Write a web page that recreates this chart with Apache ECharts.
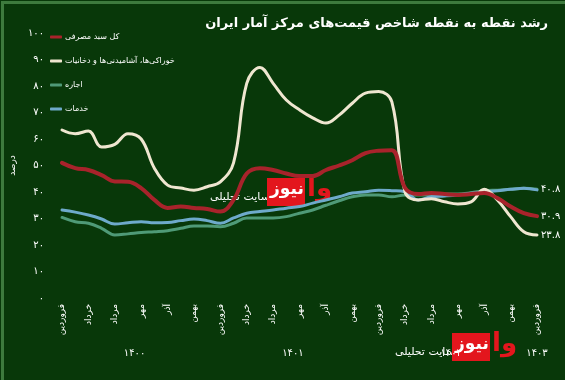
<!DOCTYPE html>
<html>
<head>
<meta charset="utf-8">
<script src="https://cdn.jsdelivr.net/npm/echarts@6/dist/echarts.min.js"></script>
<style>
  html, body { margin: 0; padding: 0; background: #083809; }
  #main { width: 565px; height: 380px; }
</style>
</head>
<body>
<div id="main"></div>
<script>
// ماه‌ها از فروردین ۱۴۰۰ تا فروردین ۱۴۰۳
var monthNames = ['فروردین','اردیبهشت','خرداد','تیر','مرداد','شهریور','مهر','آبان','آذر','دی','بهمن','اسفند'];
var months = [];
for (var y = 0; y < 3; y++) { months = months.concat(monthNames); }
months.push('فروردین');

var yearLabels = ['1400', '1401', '1402', '1403'];
var yearTicks = [5.5, 17.5, 29.5, 36];

var seriesNames = ['کل سبد مصرفی', 'خوراکی‌ها، آشامیدنی‌ها و دخانیات', 'اجاره', 'خدمات'];

var total = [51, 49, 48.3, 46.4, 44, 43.9, 41.5, 37, 34, 34.5, 34, 33.6,
  32.6, 37, 47, 49, 48.3, 47, 46, 46, 48.3, 50, 52, 54.7,
  55.6, 55.8, 41.5, 39.2, 39.6, 39.2, 38.9, 39.2, 39.6, 37.7, 34.5, 32, 30.9];

var food = [63.4, 62, 63, 57, 58, 62, 60, 49, 42.6, 41.5, 40.7, 42,
  43.8, 51, 81, 87, 81, 74.7, 71, 68, 66, 69, 73.5, 77.3,
  77.9, 74, 40, 37, 37.5, 36.3, 35.5, 36.3, 41, 37, 30.7, 25, 23.8];

var rent = [30.4, 28.8, 28.2, 26.3, 23.8, 24.2, 24.7, 25, 25.4, 26.3, 27.2, 27.2,
  26.9, 28.2, 30.2, 30.2, 30.2, 30.7, 32, 33.2, 35, 36.7, 38.2, 38.9,
  38.9, 38.2, 38.9, 38.9, 38.9, 39.2, 39.2, 39.7, 40.5, 40.7, 41, 41.4, 41];

var services = [33.2, 32.4, 31.3, 29.8, 27.9, 28.4, 28.8, 28.4, 28.5, 29.2, 29.8, 29.2,
  28.2, 30.2, 32, 32.6, 33.2, 33.9, 34.5, 35.8, 37, 38.2, 39.6, 40.1,
  40.7, 40.5, 40.1, 37, 38.2, 38.5, 38.9, 39.5, 40.1, 40.5, 41, 41.4, 40.8];

var colors = ['#a8232b', '#efe6d0', '#4f9a77', '#6eaacb'];

// ارقام فارسی
function fa(n) {
  return String(n).replace(/\d/g, function (d) { return '۰۱۲۳۴۵۶۷۸۹'[d]; });
}

var FONT = 'DejaVu Sans';
var chart = echarts.init(document.getElementById('main'));

function lineSeries(name, data, color, width, withLabel) {
  return {
    name: name,
    type: 'line',
    data: data,
    smooth: 0.4,
    symbol: 'none',
    lineStyle: { color: color, width: width, cap: 'round' },
    itemStyle: { color: color },
    endLabel: {
      show: withLabel,
      formatter: function (p) { return fa(p.value); },
      color: '#ffffff',
      fontFamily: FONT,
      fontSize: 10,
      distance: 4
    }
  };
}

function logo(left, top) {
  return {
    type: 'group',
    left: left,
    top: top,
    children: [
      { type: 'text', left: 0, top: 14, style: { text: 'سایت تحلیلی', fill: '#ffffff', font: '11px "DejaVu Sans"' } },
      { type: 'rect', left: 57, top: 0, shape: { width: 38, height: 28 }, style: { fill: '#e3161d' } },
      { type: 'text', left: 60, top: 3, style: { text: 'نیوز', fill: '#ffffff', font: 'bold 17px "DejaVu Sans"' } },
      { type: 'text', left: 97, top: -2, style: { text: 'وا', fill: '#e3161d', font: 'bold 26px "DejaVu Sans"' } }
    ]
  };
}

var option = {
  backgroundColor: '#083809',
  animation: false,
  title: {
    text: 'رشد نقطه به نقطه شاخص قیمت‌های مرکز آمار ایران',
    right: 12,
    top: 12,
    textStyle: { color: '#ffffff', fontFamily: FONT, fontSize: 13, fontWeight: 'bold' }
  },
  legend: {
    orient: 'vertical',
    left: 45,
    top: 28,
    itemGap: 16,
    itemWidth: 12,
    itemHeight: 3,
    icon: 'roundRect',
    data: seriesNames,
    textStyle: { color: '#ffffff', fontFamily: FONT, fontSize: 8, padding: [0, 0, 0, -2] }
  },
  grid: { left: 57, right: 28, top: 33, bottom: 82, containLabel: false },
  xAxis: [{
    type: 'category',
    data: months,
    boundaryGap: false,
    axisLine: { show: false },
    axisTick: { show: false },
    splitLine: { show: false },
    axisLabel: {
      interval: 1,
      rotate: 90,
      color: '#ffffff',
      fontFamily: FONT,
      fontSize: 9,
      margin: 6
    }
  }, {
    type: 'value',
    min: 0,
    max: 36,
    position: 'bottom',
    offset: 42,
    axisLine: { show: false },
    axisTick: { show: false },
    splitLine: { show: false },
    axisLabel: {
      customValues: yearTicks,
      formatter: function (v) { return fa(yearLabels[yearTicks.indexOf(v)]); },
      color: '#ffffff',
      fontFamily: FONT,
      fontSize: 10,
      margin: 8
    }
  }],
  yAxis: {
    type: 'value',
    min: 0,
    max: 100,
    interval: 10,
    name: 'درصد',
    nameLocation: 'middle',
    nameGap: 29,
    nameRotate: 90,
    nameTextStyle: { color: '#ffffff', fontFamily: FONT, fontSize: 9 },
    axisLine: { show: false },
    axisTick: { show: false },
    splitLine: { show: false },
    axisLabel: {
      color: '#ffffff',
      fontFamily: FONT,
      fontSize: 10,
      margin: 18,
      formatter: function (v) { return fa(v); }
    }
  },
  graphic: [
    { type: 'rect', left: 0, top: 0, shape: { width: 565, height: 380 },
      style: { fill: 'none', stroke: '#3d7a3d', lineWidth: 3 }, z: 100 },
    logo(210, 176),
    logo(395, 331)
  ],
  series: [
    lineSeries(seriesNames[2], rent, colors[2], 3, false),
    lineSeries(seriesNames[3], services, colors[3], 3, true),
    lineSeries(seriesNames[1], food, colors[1], 3, true),
    lineSeries(seriesNames[0], total, colors[0], 4, true)
  ]
};

chart.setOption(option);
</script>
</body>
</html>
